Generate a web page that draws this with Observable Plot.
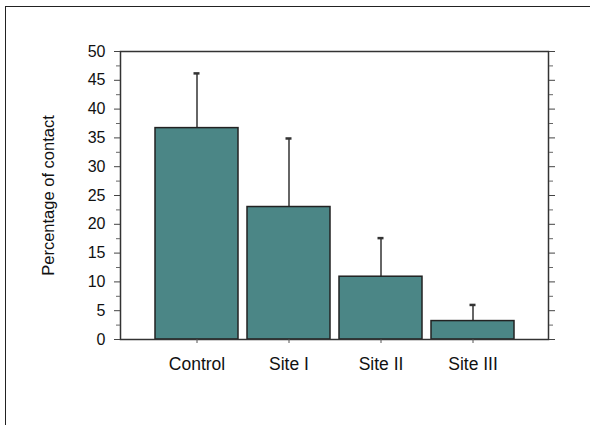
<!DOCTYPE html>
<html>
<head>
<meta charset="utf-8">
<script src="https://cdn.jsdelivr.net/npm/d3@7"></script>
<script src="https://cdn.jsdelivr.net/npm/@observablehq/plot@0.6"></script>
<style>
  html, body { margin: 0; padding: 0; background: #fff; }
  #wrap { position: relative; width: 590px; height: 425px; overflow: hidden; }
  #box { position: absolute; left: 5px; top: 6px; width: 700px; height: 600px;
         border-left: 1.5px solid #222; border-top: 1.5px solid #222; }
  #chart { position: absolute; left: 0; top: 0; }
  #chart svg text { font-size: 16px; fill: #111; }
  #chart svg g[aria-label="x-axis tick label"] text { font-size: 17.5px; }
  #chart svg g[aria-label="text"] text { font-size: 16.5px; }
</style>
</head>
<body>
<div id="wrap"><div id="box"></div><div id="chart"></div></div>
<script>
const categories = ["Control", "Site I", "Site II", "Site III"];
const means = [36.7, 23.0, 10.9, 3.2];
const upper = [46.2, 34.9, 17.6, 6.0];
const yTicks = [0, 5, 10, 15, 20, 25, 30, 35, 40, 45, 50];
const yMinorTicks = [2.5, 7.5, 12.5, 17.5, 22.5, 27.5, 32.5, 37.5, 42.5, 47.5];
const yLabel = "Percentage of contact";

const data = categories.map((c, i) => ({cat: c, mean: means[i], hi: upper[i]}));

const chart = Plot.plot({
  width: 590,
  height: 425,
  marginLeft: 120,
  marginRight: 42,
  marginTop: 51,
  marginBottom: 86,
  style: {fontFamily: "'Liberation Sans', Arial, sans-serif", fontSize: "16px", color: "#111", background: "transparent"},
  x: {domain: categories, paddingInner: 0.1, paddingOuter: 0.36},
  y: {domain: [0, 50]},
  marks: [
    Plot.ruleX(data, {x: "cat", y1: "mean", y2: "hi", stroke: "#333", strokeWidth: 1.5}),
    Plot.tickY(data, {x: "cat", y: "hi", insetLeft: 38.5, insetRight: 38.5, stroke: "#333", strokeWidth: 2.5}),
    Plot.barY(data, {x: "cat", y: "mean", fill: "#4b8686", stroke: "#222", strokeWidth: 1.5}),
    Plot.frame({stroke: "#333", strokeWidth: 1.5}),
    Plot.axisY(yTicks, {anchor: "left", tickSize: 6, tickPadding: 9, label: null, stroke: "#444"}),
    Plot.axisY(yMinorTicks, {anchor: "left", tickSize: 4, text: null, label: null, stroke: "#666"}),
    Plot.axisY(yTicks, {anchor: "right", tickSize: 6, text: null, label: null, stroke: "#444"}),
    Plot.axisY(yMinorTicks, {anchor: "right", tickSize: 4, text: null, label: null, stroke: "#666"}),
    Plot.axisX({anchor: "bottom", tickSize: 4, tickPadding: 14, label: null, stroke: "#555"}),
    Plot.text([yLabel], {frameAnchor: "left", dx: -72, rotate: -90, textAnchor: "middle", fill: "#111"})
  ]
});
document.getElementById("chart").appendChild(chart);
</script>
</body>
</html>
